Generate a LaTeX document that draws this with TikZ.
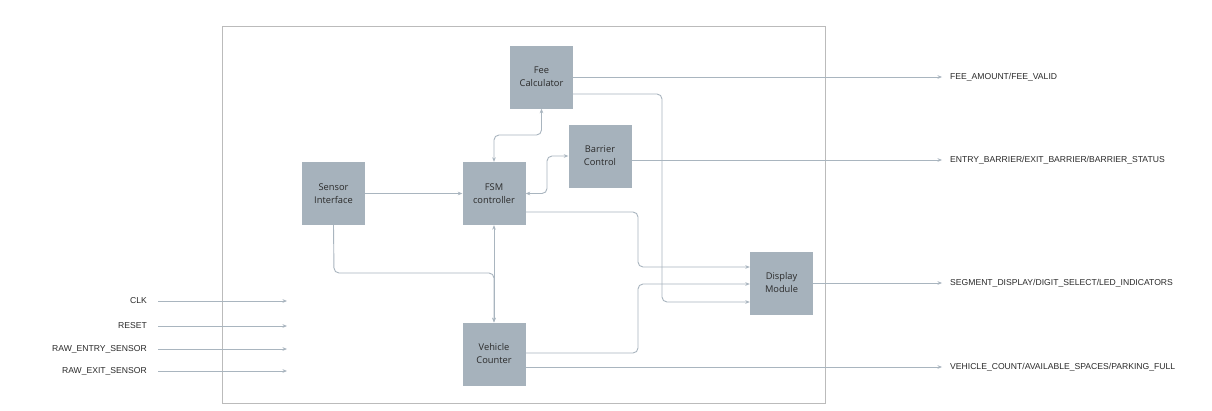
\documentclass[tikz,border=0pt]{standalone}
\usepackage{fontspec}
\setmainfont{Open Sans}
\newfontfamily\lblfont{Liberation Sans}
\usetikzlibrary{arrows.meta}
\definecolor{boxfill}{HTML}{A6B2BC}
\definecolor{linec}{HTML}{A9B5BF}
\definecolor{framec}{HTML}{BBBBBB}
\definecolor{txt}{HTML}{2A2A2A}
\tikzset{
  block/.style={fill=boxfill, draw=none, minimum width=63pt, minimum height=63pt, inner sep=0pt,
    align=center, text=txt, font=\fontsize{9.3}{13}\selectfont},
  conn/.style={draw=linec, line width=0.9pt, rounded corners=5pt, -{Stealth[length=4.5pt,width=3.6pt]}},
  biconn/.style={conn, {Stealth[length=4.5pt,width=3.6pt]}-{Stealth[length=4.5pt,width=3.6pt]}},
  sig/.style={text=txt, font=\lblfont\fontsize{8.6}{10}\selectfont, inner sep=0pt},
}
\begin{document}
\begin{tikzpicture}[x=1pt,y=-1pt]
\useasboundingbox (0,0) rectangle (1212,410);
\fill[white] (0,0) rectangle (1212,410);
\draw[framec, line width=1pt] (222,26) rectangle (825,403);

\node[block] (fee) at (541.5,77) {Fee\\Calculator};
\node[block] (bar) at (600,156) {Barrier\\Control};
\node[block] (sen) at (333.5,193.5) {Sensor\\Interface};
\node[block] (fsm) at (494,193.5) {FSM\\controller};
\node[block] (disp) at (781.5,283) {Display\\Module};
\node[block] (veh) at (494,354) {Vehicle\\Counter};

% inputs
\node[sig, anchor=east] (clk) at (147,301) {CLK};
\node[sig, anchor=east] (rst) at (147,326) {RESET};
\node[sig, anchor=east] (ren) at (147,349) {RAW\_ENTRY\_SENSOR};
\node[sig, anchor=east] (rex) at (147,371) {RAW\_EXIT\_SENSOR};
\coordinate (clkE) at (287,301);
\coordinate (rstE) at (287,326);
\coordinate (renE) at (287,349);
\coordinate (rexE) at (287,371);
\draw[conn] ([xshift=11pt]clk.east) -- (clkE);
\draw[conn] ([xshift=11pt]rst.east) -- (rstE);
\draw[conn] ([xshift=11pt]ren.east) -- (renE);
\draw[conn] ([xshift=11pt]rex.east) -- (rexE);

% outputs
\node[sig, anchor=west] (ofee) at (950,77) {FEE\_AMOUNT/FEE\_VALID};
\node[sig, anchor=west] (obar) at (950,160) {ENTRY\_BARRIER/EXIT\_BARRIER/BARRIER\_STATUS};
\node[sig, anchor=west] (odisp) at (950,283) {SEGMENT\_DISPLAY/DIGIT\_SELECT/LED\_INDICATORS};
\node[sig, anchor=west] (oveh) at (950,367) {VEHICLE\_COUNT/AVAILABLE\_SPACES/PARKING\_FULL};
\draw[conn] (fee.east |- 0,77) -- ([xshift=-8pt]ofee.west);
\draw[conn] (bar.east |- 0,160) -- ([xshift=-8pt]obar.west);
\draw[conn] (disp.east |- 0,283) -- ([xshift=-8pt]odisp.west);
\draw[conn] (veh.east |- 0,367) -- ([xshift=-8pt]oveh.west);

% internal
\draw[conn] (sen.east) -- (fsm.west);
\draw[conn] (sen.south) -- (334,273) -- (494,273) -- (veh.north);
\draw[biconn] (fsm.south) -- (veh.north);
\draw[biconn] (fsm.north) -- (494,135) -- (541.5,135) -- (fee.south);
\draw[biconn] (fsm.east) -- (547,193.5) -- (547,156) -- (bar.west);
\draw[conn] (fsm.east |- 0,212) -- (638,212) -- (638,267) -- (disp.west |- 0,267);
\draw[conn] (fee.east |- 0,94) -- (662,94) -- (662,302) -- (disp.west |- 0,302);
\draw[conn] (veh.east |- 0,353) -- (638,353) -- (638,284) -- (disp.west |- 0,284);
\end{tikzpicture}
\end{document}
